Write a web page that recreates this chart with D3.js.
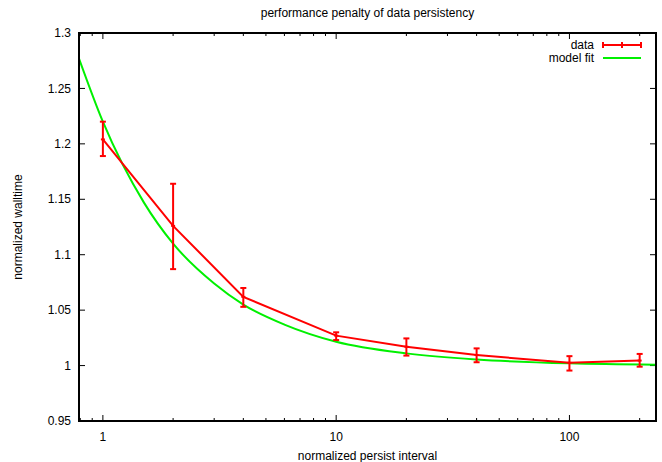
<!DOCTYPE html>
<meta charset="utf-8">
<style>
body { margin: 0; background: #fff; }
text { font-family: "Liberation Sans", Arial, sans-serif; font-size: 12px; fill: #000; }
</style>
<svg width="662" height="462"></svg>
<script src="https://d3js.org/d3.v7.min.js"></script>
<script>

// measured points: interval, mean walltime, lower / upper error bound
var interval = [1, 2, 4, 10, 20, 40, 100, 200];
var walltime = [1.204, 1.126, 1.062, 1.027, 1.017, 1.0095, 1.0025, 1.0045];
var errLow   = [1.189, 1.087, 1.053, 1.023, 1.009, 1.003, 0.9955, 0.999];
var errHigh  = [1.220, 1.164, 1.070, 1.030, 1.0245, 1.0155, 1.0085, 1.0105];

// model fit curve
var fitX = [0.79, 1, 1.5, 2, 3, 4, 6, 10, 20, 40, 100, 235];
var fitY = [1.277, 1.220, 1.147, 1.110, 1.074, 1.055, 1.037, 1.0215, 1.011, 1.0055, 1.002, 1.0008];

var xTicks = [1, 10, 100];
var yTicks = [0.95, 1, 1.05, 1.1, 1.15, 1.2, 1.25, 1.3];

var svg = d3.select("svg"),
    margin = {left: 79, right: 6, top: 33, bottom: 41},
    width = 662 - margin.left - margin.right,
    height = 462 - margin.top - margin.bottom;

var x = d3.scaleLog().domain([0.79, 235]).range([0, width]);
var y = d3.scaleLinear().domain([0.95, 1.3]).range([height, 0]);

var g = svg.append("g").attr("transform", "translate(" + margin.left + "," + margin.top + ")");

// minor ticks 2..9 per decade
var minor = [];
[0.1, 1, 10, 100].forEach(function(d) {
  for (var k = 1; k <= 9; k++) {
    var v = d * k;
    if (v >= 0.79 && v <= 235 && xTicks.indexOf(v) < 0) minor.push(v);
  }
});

var ticks = g.append("g").attr("stroke", "#000").attr("stroke-width", 1);
xTicks.forEach(function(v) {
  ticks.append("line").attr("x1", x(v)).attr("x2", x(v)).attr("y1", height).attr("y2", height - 6);
  ticks.append("line").attr("x1", x(v)).attr("x2", x(v)).attr("y1", 0).attr("y2", 6);
});
minor.forEach(function(v) {
  ticks.append("line").attr("x1", x(v)).attr("x2", x(v)).attr("y1", height).attr("y2", height - 3);
  ticks.append("line").attr("x1", x(v)).attr("x2", x(v)).attr("y1", 0).attr("y2", 3);
});
yTicks.forEach(function(v) {
  ticks.append("line").attr("x1", 0).attr("x2", 6).attr("y1", y(v)).attr("y2", y(v));
  ticks.append("line").attr("x1", width).attr("x2", width - 6).attr("y1", y(v)).attr("y2", y(v));
});

g.selectAll(".xl").data(xTicks).enter().append("text")
    .attr("x", function(d) { return x(d); })
    .attr("y", height + 20)
    .attr("text-anchor", "middle")
    .text(function(d) { return d; });

g.selectAll(".yl").data(yTicks).enter().append("text")
    .attr("x", -8)
    .attr("y", function(d) { return y(d); })
    .attr("dy", "0.35em")
    .attr("text-anchor", "end")
    .text(function(d) { return d3.format("")(+d.toFixed(2)); });

// clip curves to plot area
svg.append("clipPath").attr("id", "clip")
  .append("rect").attr("width", width).attr("height", height);

var plot = g.append("g").attr("clip-path", "url(#clip)");

var fitLine = d3.line()
    .x(function(d, i) { return x(fitX[i]); })
    .y(function(d) { return y(d); })
    .curve(d3.curveMonotoneX);

plot.append("path")
    .datum(fitY)
    .attr("d", fitLine)
    .attr("fill", "none")
    .attr("stroke", "#00f000")
    .attr("stroke-width", 2);

var dataLine = d3.line()
    .x(function(d, i) { return x(interval[i]); })
    .y(function(d) { return y(d); });

plot.append("path")
    .datum(walltime)
    .attr("d", dataLine)
    .attr("fill", "none")
    .attr("stroke", "#ff0000")
    .attr("stroke-width", 2);

var bars = plot.append("g").attr("stroke", "#ff0000").attr("stroke-width", 2);
interval.forEach(function(v, i) {
  var cx = x(v);
  bars.append("line").attr("x1", cx).attr("x2", cx).attr("y1", y(errLow[i])).attr("y2", y(errHigh[i]));
  bars.append("line").attr("x1", cx - 3).attr("x2", cx + 3).attr("y1", y(errLow[i])).attr("y2", y(errLow[i]));
  bars.append("line").attr("x1", cx - 3).attr("x2", cx + 3).attr("y1", y(errHigh[i])).attr("y2", y(errHigh[i]));
  bars.append("line").attr("x1", cx - 2).attr("x2", cx + 2).attr("y1", y(walltime[i])).attr("y2", y(walltime[i]));
});

// border
g.append("rect")
    .attr("width", width).attr("height", height)
    .attr("fill", "none").attr("stroke", "#000").attr("stroke-width", 2);

// legend
var leg = g.append("g");
leg.append("text").attr("x", 594 - margin.left).attr("y", 45 - margin.top).attr("dy", "0.35em")
    .attr("text-anchor", "end").text("data");
leg.append("text").attr("x", 594 - margin.left).attr("y", 58 - margin.top).attr("dy", "0.35em")
    .attr("text-anchor", "end").text("model fit");
var lx0 = 603 - margin.left, lx1 = 641 - margin.left, ly = 45 - margin.top;
var lg = leg.append("g").attr("stroke", "#ff0000").attr("stroke-width", 2);
lg.append("line").attr("x1", lx0).attr("x2", lx1).attr("y1", ly).attr("y2", ly);
[lx0, (lx0 + lx1) / 2, lx1].forEach(function(px) {
  lg.append("line").attr("x1", px).attr("x2", px).attr("y1", ly - 3).attr("y2", ly + 3);
});
leg.append("line").attr("x1", lx0).attr("x2", lx1).attr("y1", 58 - margin.top).attr("y2", 58 - margin.top)
    .attr("stroke", "#00f000").attr("stroke-width", 2);

// titles
svg.append("text").attr("x", margin.left + width / 2).attr("y", 17)
    .attr("text-anchor", "middle").text("performance penalty of data persistency");
svg.append("text").attr("x", margin.left + width / 2).attr("y", 460)
    .attr("text-anchor", "middle").text("normalized persist interval");
svg.append("text").attr("transform", "translate(22," + (margin.top + height / 2) + ") rotate(-90)")
    .attr("text-anchor", "middle").text("normalized walltime");

</script>
